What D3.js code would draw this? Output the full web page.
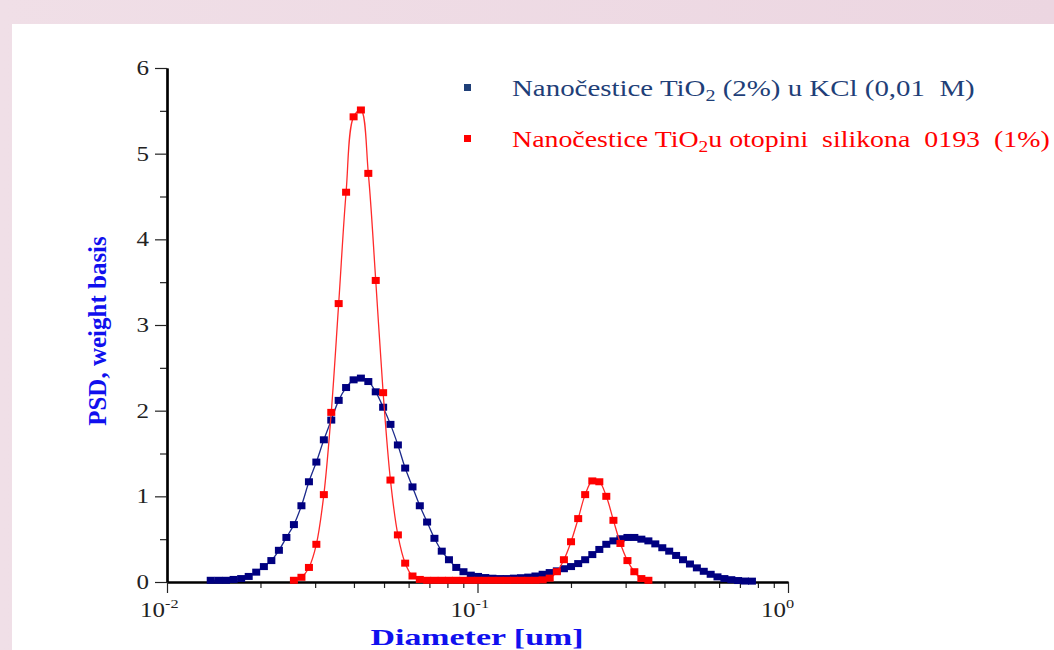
<!DOCTYPE html>
<html>
<head>
<meta charset="utf-8">
<script src="https://cdn.jsdelivr.net/npm/d3@7"></script>
<style>
  body { margin: 0; overflow: hidden; background: #efdce5; }
  text { font-family: "Liberation Serif", "Times New Roman", serif; }
</style>
</head>
<body>
<div id="wrapper"></div>
<script>
const diameters = [
  0.01383, 0.01464, 0.01549, 0.01639, 0.01733, 0.01833, 0.01938, 0.02051, 0.02168, 0.02293,
  0.02424, 0.02563, 0.02710, 0.02865, 0.03027, 0.03200, 0.03381, 0.03572, 0.03774, 0.03990,
  0.04212, 0.04450, 0.04702, 0.04967, 0.05244, 0.05541, 0.05849, 0.06175, 0.06519, 0.06882,
  0.07266, 0.07671, 0.08092, 0.08543, 0.09012, 0.09515, 0.1004, 0.1059, 0.1117, 0.1178,
  0.1243, 0.1310, 0.1382, 0.1457, 0.1537, 0.1621, 0.1708, 0.1801, 0.1898, 0.2001,
  0.2110, 0.2222, 0.2343, 0.2468, 0.2599, 0.2740, 0.2886, 0.3040, 0.3200, 0.3371,
  0.3551, 0.3738, 0.3937, 0.4144, 0.4362, 0.4591, 0.4833, 0.5087, 0.5354, 0.5636,
  0.5928, 0.6240, 0.6568, 0.6908, 0.7271, 0.7654,
]

// TiO2 (2%) in KCl - one value per channel
const kclPSD = [
  0.02, 0.02, 0.02, 0.03, 0.04, 0.065, 0.115, 0.18, 0.25, 0.37,
  0.52, 0.67, 0.89, 1.17, 1.40, 1.66, 1.89, 2.12, 2.27, 2.36,
  2.38, 2.34, 2.22, 2.04, 1.84, 1.60, 1.33, 1.11, 0.89, 0.70,
  0.51, 0.36, 0.26, 0.17, 0.12, 0.08, 0.065, 0.052, 0.044, 0.04,
  0.04, 0.045, 0.05, 0.057, 0.07, 0.09, 0.11, 0.13, 0.155, 0.18,
  0.215, 0.26, 0.32, 0.38, 0.44, 0.48, 0.505, 0.52, 0.52, 0.50,
  0.48, 0.445, 0.40, 0.36, 0.31, 0.26, 0.21, 0.165, 0.125, 0.09,
  0.06, 0.04, 0.027, 0.017, 0.011, 0.01,
]

// TiO2 in silicone solution - starts at channel 11
const siliconeFirst = 11
const siliconePSD = [
  0.02, 0.055, 0.17, 0.44, 1.02, 1.98, 3.25, 4.55, 5.43, 5.51,
  4.77, 3.52, 2.21, 1.19, 0.55, 0.22, 0.07, 0.03, 0.02, 0.02,
  0.02, 0.02, 0.02, 0.02, 0.02, 0.02, 0.02, 0.02, 0.02, 0.02,
  0.02, 0.02, 0.02, 0.02, 0.025, 0.045, 0.12, 0.26, 0.47, 0.74,
  1.02, 1.18, 1.17, 1.00, 0.72, 0.45, 0.25, 0.12, 0.04, 0.02,
]

const yTicks = [0, 1, 2, 3, 4, 5, 6]
const yMinorTicks = [0.5, 1.5, 2.5, 3.5, 4.5, 5.5]
const xTicks = [0.01, 0.1, 1]
const xTickExp = ["-2", "-1", "0"]
const xMinorTicks = [0.02, 0.03, 0.04, 0.05, 0.06, 0.07, 0.08, 0.09,
                     0.2, 0.3, 0.4, 0.5, 0.6, 0.7, 0.8, 0.9]

const series = [
  { name: "kcl", color: "#000080", line: "#1c2a8c",
    points: kclPSD.map((v, i) => [diameters[i], v]) },
  { name: "silicone", color: "#ff0000", line: "#ff2a2a",
    points: siliconePSD.map((v, i) => [diameters[i + siliconeFirst], v]) },
]

const width = 1054
const height = 650
let dimensions = {
  width: width,
  height: height,
  margin: { top: 68, right: 266, bottom: 68, left: 167 },
}
dimensions.boundedWidth = dimensions.width - dimensions.margin.left - dimensions.margin.right
dimensions.boundedHeight = dimensions.height - dimensions.margin.top - dimensions.margin.bottom

const wrapper = d3.select("#wrapper")
  .append("svg")
  .attr("width", dimensions.width)
  .attr("height", dimensions.height)

// pink slide background with the white panel
const defs = wrapper.append("defs")
const grad = defs.append("linearGradient").attr("id", "bg")
grad.append("stop").attr("offset", "0%").attr("stop-color", "#f0dfe7")
grad.append("stop").attr("offset", "100%").attr("stop-color", "#ecd6e1")
wrapper.append("rect").attr("width", width).attr("height", height).attr("fill", "url(#bg)")
wrapper.append("rect").attr("x", 12).attr("y", 24)
  .attr("width", width - 12).attr("height", height - 24).attr("fill", "#ffffff")

const xScaler = d3.scaleLog()
  .domain([0.01, 1])
  .range([dimensions.margin.left, dimensions.margin.left + dimensions.boundedWidth])

const yScaler = d3.scaleLinear()
  .domain([0, 6])
  .range([dimensions.margin.top + dimensions.boundedHeight, dimensions.margin.top])

// text squeezed/stretched horizontally to the width it has in the picture
function stretchText(parent, x, y, anchor, scaleX) {
  const g = parent.append("g")
  const t = g.append("text").attr("text-anchor", anchor)
  const fit = (targetWidth) => {
    const k = targetWidth ? targetWidth / t.node().getBBox().width : scaleX
    g.attr("transform", `translate(${x},${y}) scale(${k},1)`)
  }
  return { g, t, fit }
}

// axes
const yAxisG = wrapper.append("g")
  .attr("transform", `translate(${dimensions.margin.left},0)`)
yAxisG.append("g")
  .call(d3.axisLeft(yScaler).tickValues(yMinorTicks).tickSize(7).tickSizeOuter(0).tickFormat(""))
yAxisG.append("g")
  .call(d3.axisLeft(yScaler).tickValues(yTicks).tickSize(12).tickSizeOuter(0).tickFormat(""))

const xAxisG = wrapper.append("g")
  .attr("transform", `translate(0,${dimensions.margin.top + dimensions.boundedHeight})`)
xAxisG.append("g")
  .call(d3.axisBottom(xScaler).tickValues(xMinorTicks).tickSize(6).tickSizeOuter(0).tickFormat(""))
xAxisG.append("g")
  .call(d3.axisBottom(xScaler).tickValues(xTicks).tickSize(11).tickSizeOuter(0).tickFormat(""))

wrapper.selectAll(".domain").attr("stroke", "#000").attr("stroke-width", 2.2)
wrapper.selectAll(".tick line").attr("stroke", "#222").attr("stroke-width", 1.2)

// tick labels
yTicks.forEach(v => {
  const lab = stretchText(wrapper, 149, yScaler(v) + 7, "end", 1.25)
  lab.t.attr("font-size", 20).attr("fill", "#222").text(v)
  lab.fit()
})

xTicks.forEach((v, i) => {
  const lab = stretchText(wrapper, xScaler(v) - 27, 617, "start", 1.25)
  lab.t.attr("font-size", 20).attr("fill", "#222")
  lab.t.append("tspan").text("10")
  lab.t.append("tspan").attr("font-size", 13).attr("dy", -9).text(xTickExp[i])
  lab.fit()
})

// axis titles
const xTitle = stretchText(wrapper, 477, 645, "middle")
xTitle.t.attr("font-size", 24).attr("font-weight", "bold").attr("fill", "#1010ee")
  .text("Diameter [um]")
xTitle.fit(213)

wrapper.append("text")
  .attr("transform", "translate(106,331) rotate(-90)")
  .attr("text-anchor", "middle")
  .attr("font-size", 25)
  .attr("font-weight", "bold")
  .attr("fill", "#1010ee")
  .text("PSD, weight basis")

// curves and markers
const lineGenerator = d3.line()
  .x(d => xScaler(d[0]))
  .y(d => yScaler(d[1]))
  .curve(d3.curveCatmullRom.alpha(0.5))

series.forEach(s => {
  const g = wrapper.append("g").attr("class", s.name)
  g.append("path")
    .attr("d", lineGenerator(s.points))
    .attr("fill", "none")
    .attr("stroke", s.line)
    .attr("stroke-width", 1.3)
  g.selectAll("rect")
    .data(s.points)
    .join("rect")
    .attr("x", d => xScaler(d[0]) - 4)
    .attr("y", d => yScaler(d[1]) - 3.5)
    .attr("width", 8)
    .attr("height", 7)
    .attr("fill", s.color)
})

// legend
const legendRows = [
  { color: "#1f3f78", marker: "#1f3f78", y: 96,
    parts: [["Nanočestice TiO", 0], ["2", 1], [" (2%) u KCl (0,01  M)", 0]], width: 463 },
  { color: "#ff0000", marker: "#ff0000", y: 147,
    parts: [["Nanočestice TiO", 0], ["2", 1], ["u otopini  silikona  0193  (1%)", 0]], width: 538 },
]
legendRows.forEach(row => {
  wrapper.append("rect")
    .attr("x", 464).attr("y", row.y - 12)
    .attr("width", 7).attr("height", 7)
    .attr("fill", row.marker)
  const lab = stretchText(wrapper, 512, row.y, "start")
  lab.t.attr("font-size", 23).attr("fill", row.color).attr("xml:space", "preserve")
    .style("white-space", "pre")
  row.parts.forEach(p => {
    const ts = lab.t.append("tspan").text(p[0])
    if (p[1]) ts.attr("font-size", 16).attr("dy", 5)
    else if (lab.t.selectAll("tspan").size() > 1) ts.attr("dy", -5)
  })
  lab.fit(row.width)
})
</script>
</body>
</html>
